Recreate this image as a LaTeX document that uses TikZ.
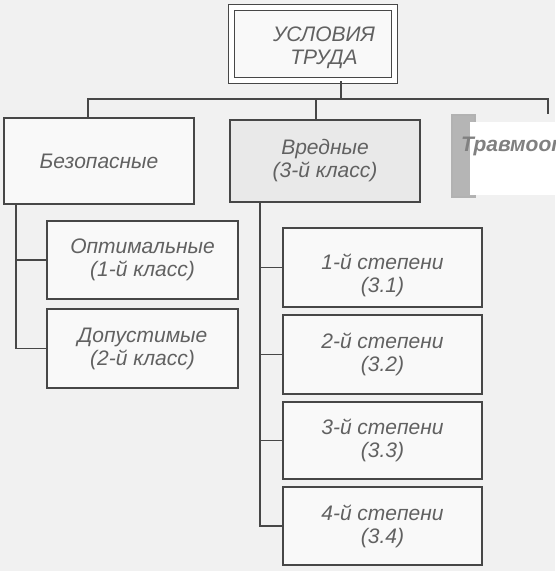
\documentclass[tikz,border=0pt]{standalone}
\usepackage{fontspec}
\setmainfont{Liberation Sans}
\setlength{\tabcolsep}{0pt}
\begin{document}
\begin{tikzpicture}[x=1pt, y=-1pt,
    every node/.style={font=\fontsize{21}{23}\selectfont\itshape, text=black!62, align=center},
    box/.style={draw=black!72, line width=1.3pt, fill=gray!5, inner sep=0pt},
    link/.style={draw=black!72, line width=1.1pt}]
  % sheet
  \clip (0,0) rectangle (555,571);
  \fill[gray!11] (0,0) rectangle (555,571);
  % top
  \node[box, double, double distance=4.5pt, line width=1.1pt, minimum width=163pt, minimum height=73pt] (cond) at (313,44) {\raisebox{-10pt}[0pt][0pt]{\begin{tabular}{c}\hspace*{22pt}УСЛОВИЯ\\ \hspace*{22pt}ТРУДА\end{tabular}}};
  % bus
  \coordinate (busl) at (88,99);
  \coordinate (busm) at (316,99);
  \coordinate (busr) at (548,99);
  % three classes
  \node[box, minimum width=190pt, minimum height=86pt] (safe) at (99,161) {Безопасные};
  \node[box, fill=gray!17, minimum width=190pt, minimum height=82pt] (harm) at (325,161) {Вредные\\(3-й класс)};
  \node[box, draw=gray!60, fill=gray!58, minimum width=23pt, minimum height=82pt] (danger) at (463.5,156) {};
  \node[fill=white, minimum width=90pt, minimum height=73pt, inner sep=0pt] (blank) at (515,158.5) {};
  \node[anchor=west, inner sep=0pt, text=black!50, font=\fontsize{21}{23}\selectfont\itshape\bfseries] (dangertxt) at (461,146) {Травмоопасные};
  % safe branch
  \coordinate (ltrunk) at (16,0);
  \node[box, minimum width=191pt, minimum height=78pt] (opt) at (142.5,260) {Оптимальные\\(1-й класс)};
  \node[box, minimum width=191pt, minimum height=79pt] (perm) at (142.5,348.5) {Допустимые\\(2-й класс)};
  % harmful branch
  \coordinate (rtrunk) at (260,0);
  \node[box, minimum width=199pt, minimum height=79pt] (deg1) at (382.5,267.5) {\raisebox{-14pt}[0pt][0pt]{\begin{tabular}{c}1-й степени\\(3.1)\end{tabular}}};
  \node[box, minimum width=199pt, minimum height=79pt] (deg2) at (382.5,354.5) {2-й степени\\(3.2)};
  \node[box, minimum width=199pt, minimum height=77pt] (deg3) at (382.5,440.5) {3-й степени\\(3.3)};
  \node[box, minimum width=199pt, minimum height=78pt] (deg4) at (382.5,526) {4-й степени\\(3.4)};
  % connectors
  \draw[link] ([xshift=28pt]cond.south) -- ([xshift=28pt]cond.south |- busl);
  \draw[link] (busl |- safe.north) -- (busl) -- (busr) -- (busr |- danger.north);
  \draw[link] (busm) -- (busm |- harm.north);
  \draw[link] (safe.south -| ltrunk) |- (opt.west);
  \draw[link] (safe.south -| ltrunk) |- (perm.west);
  \draw[link] (harm.south -| rtrunk) |- (deg1.west);
  \draw[link] (harm.south -| rtrunk) |- (deg2.west);
  \draw[link] (harm.south -| rtrunk) |- (deg3.west);
  \draw[link] (harm.south -| rtrunk) |- (deg4.west);
\end{tikzpicture}
\end{document}
